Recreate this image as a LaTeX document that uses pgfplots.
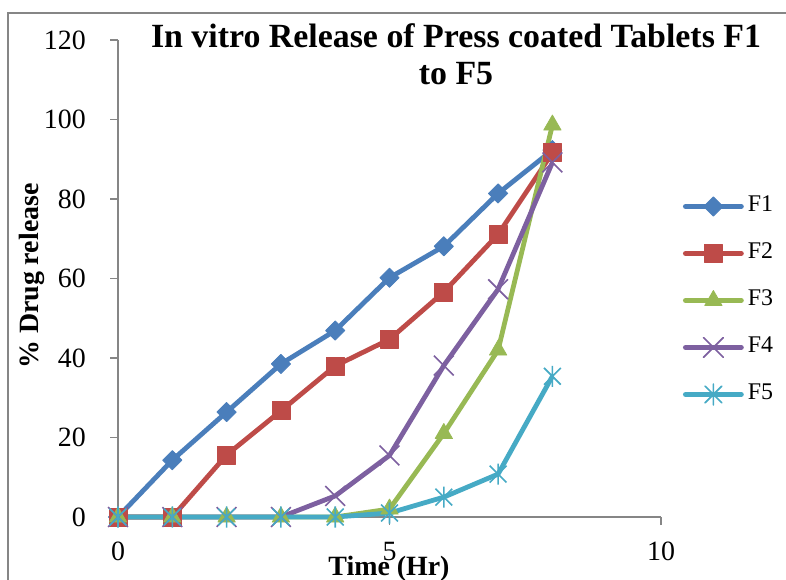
\documentclass[border=0pt]{standalone}
\usepackage{pgfplots}
\pgfplotsset{compat=1.18}
\usepackage{fontspec}
\setmainfont{Liberation Serif}
\definecolor{cFa}{HTML}{4A7EBB}
\definecolor{cFb}{HTML}{BE4B48}
\definecolor{cFc}{HTML}{98B954}
\definecolor{cFd}{HTML}{7D60A0}
\definecolor{cFe}{HTML}{46AAC5}
\definecolor{axgray}{HTML}{868686}
\pgfdeclareplotmark{xstar}{%
  \pgfpathmoveto{\pgfqpoint{-.8\pgfplotmarksize}{-.8\pgfplotmarksize}}%
  \pgfpathlineto{\pgfqpoint{.8\pgfplotmarksize}{.8\pgfplotmarksize}}%
  \pgfpathmoveto{\pgfqpoint{-.8\pgfplotmarksize}{.8\pgfplotmarksize}}%
  \pgfpathlineto{\pgfqpoint{.8\pgfplotmarksize}{-.8\pgfplotmarksize}}%
  \pgfpathmoveto{\pgfqpoint{0pt}{-\pgfplotmarksize}}%
  \pgfpathlineto{\pgfqpoint{0pt}{\pgfplotmarksize}}%
  \pgfusepathqstroke}
\begin{document}
\begin{tikzpicture}
\useasboundingbox (0,0) rectangle (786bp,580bp);
\draw[axgray, line width=1.5bp] (8bp,0) -- (8bp,567bp) -- (786bp,567bp);
\begin{axis}[
  at={(118bp,63bp)}, anchor=south west, scale only axis,
  width=543bp, height=477bp,
  xmin=0, xmax=10, ymin=0, ymax=120,
  xtick={0,5,10}, ytick={0,20,...,120},
  axis x line=bottom, axis y line=left,
  axis line style={axgray, line width=1.3bp, -},
  every tick/.style={axgray, line width=1.3bp},
  tick align=outside, major tick length=8bp,
  tick label style={font=\fontsize{28}{28}\selectfont},
  /pgf/number format/assume math mode=true,
  yticklabel style={anchor=east, inner sep=0pt, xshift=-24bp},
  xticklabel style={anchor=base, inner sep=0pt, yshift=-35bp},
  xlabel={\textbf{Time (Hr)}},
  xlabel style={at={(axis description cs:0.499,0)}, anchor=base, yshift=-58bp, font=\fontsize{28}{28}\selectfont},
  ylabel={\textbf{\% Drug release}},
  ylabel style={at={(axis description cs:-0.1473,0.505)}, anchor=base, rotate=0, font=\fontsize{28}{28}\selectfont},
  clip=false,
  every axis plot/.append style={line width=4.8bp, line join=round},
  legend style={draw=none, fill=none, at={(rel axis cs:1.0405,0.673)}, anchor=north west,
    inner sep=0pt, outer sep=0pt, row sep=26bp, font=\fontsize{24}{24}\selectfont,
    nodes={inner sep=0pt, text height=16bp, text depth=5bp},
    /tikz/every odd column/.style={column sep=4bp}},
  legend cell align=left,
  legend image code/.code={\draw[mark repeat=2,mark phase=2,line cap=round,#1] plot coordinates {(0bp,0bp) (28bp,0bp) (56bp,0bp)};},
]
\addplot[color=cFa, mark=square*, mark size=6.8bp, mark options={rotate=45, line width=0.8bp, fill=cFa}]
  coordinates {(0,0) (1,14.3) (2,26.4) (3,38.5) (4,46.9) (5,60.2) (6,68.1) (7,81.4) (8,92.3)};
\addlegendentry{F1}
\addplot[color=cFb, mark=square*, mark size=9bp, mark options={line width=0.8bp, fill=cFb}]
  coordinates {(0,0) (1,0) (2,15.6) (3,26.7) (4,38.0) (5,44.7) (6,56.6) (7,71.1) (8,91.6)};
\addlegendentry{F2}
\addplot[color=cFc, mark=triangle*, mark size=10bp, mark options={line width=0.8bp, fill=cFc}]
  coordinates {(0,0) (1,0) (2,0) (3,0) (4,0) (5,2.0) (6,21.0) (7,42.0) (8,98.6)};
\addlegendentry{F3}
\addplot[color=cFd, mark=x, mark size=14bp, mark options={line width=1.6bp}]
  coordinates {(0,0) (1,0) (2,0) (3,0) (4,5.3) (5,15.5) (6,38.1) (7,57.3) (8,89.2)};
\addlegendentry{F4}
\addplot[color=cFe, mark=xstar, mark size=10.5bp, mark options={line width=1.6bp}]
  coordinates {(0,0) (1,0) (2,0) (3,0) (4,0) (5,1.0) (6,5.0) (7,10.8) (8,35.4)};
\addlegendentry{F5}
\end{axis}
\node[anchor=base, font=\bfseries\fontsize{34}{34}\selectfont] at (456bp,532bp) {In vitro Release of Press coated Tablets F1};
\node[anchor=base, font=\bfseries\fontsize{34}{34}\selectfont] at (456bp,495bp) {to F5};
\end{tikzpicture}
\end{document}
